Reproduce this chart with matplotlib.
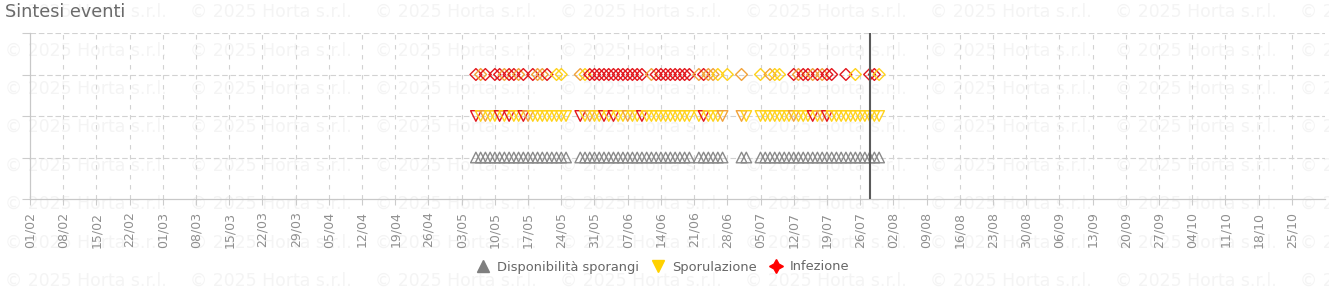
import matplotlib
matplotlib.use("Agg")
import matplotlib.pyplot as plt
import matplotlib.dates as mdates
from matplotlib.lines import Line2D
import pandas as pd

W, H, DPI = 1329, 289, 100

# ---------------- data ----------------
title = "Sintesi eventi"
watermark = "\u00a9 2025 Horta s.r.l."
series_names = ["Disponibilità sporangi", "Sporulazione", "Infezione"]
first_event_day = "2025-05-06"
today = "2025-07-28"
x_start, x_end = "2025-02-01", "2025-11-01"
tick_start, tick_end = "2025-02-01", "2025-10-25"

# one code per day starting at first_event_day ('-' = no event)
# G = grey, Y = yellow, O = orange, R = red
disponibilita_codes = list(
    "GGGGGGG" "GGGGGGG" "GGGGGG-" "-GGGGGG" "GGGGGGG" "GGGGGGG"
    "GGGG-GG" "GGGG---" "GG--GGG" "GGGGGGG" "GGGGGGG" "GGGGGGG" "GG"
)
sporulazione_codes = list(
    "RYOYYRY" "RYYROYY" "YYYYYY-" "-RYOYYR" "YRYYOYY" "RYYYYYY"
    "YYYY-YR" "YYYO---" "OY--YYY" "YYYYOYY" "YRYORYY" "YYYYYYY" "YY"
)
infezione_codes = list(
    "ROR-RRO" "RROR-RO" "OR-YY--" "-OYRRRR" "RRRRRRR" "R-ORRRR"
    "RRRR-OR" "OOY-Y--" "O---Y-O" "YY--ROR" "RORORR-" "-R-Y--R" "RY"
)

# ---------------- styles ----------------
colors = {"G": "#8a8a8a", "Y": "#FFD21A", "O": "#F2A23A", "R": "#E3161C"}
row_y = {"Disponibilità sporangi": 1, "Sporulazione": 2, "Infezione": 3}
row_marker = {"Disponibilità sporangi": "^", "Sporulazione": "v", "Infezione": "D"}
row_size = {"Disponibilità sporangi": 58, "Sporulazione": 58, "Infezione": 36}
row_codes = {"Disponibilità sporangi": disponibilita_codes,
             "Sporulazione": sporulazione_codes,
             "Infezione": infezione_codes}

fig = plt.figure(figsize=(W / DPI, H / DPI), dpi=DPI)
fig.patch.set_facecolor("white")

# watermark grid
for yy in [12, 50.4, 88.8, 127.2, 165.6, 204, 242.4, 280.8]:
    for xx in [5, 190, 375, 560, 745, 930, 1115, 1300]:
        fig.text(xx / W, 1 - yy / H, watermark, fontsize=12.4, color="#f4f4f4",
                 ha="left", va="center", zorder=-5)

ax = fig.add_axes([30 / W, (H - 199) / H, (1325 - 30) / W, (199 - 33) / H])
ax.patch.set_alpha(0)

days = pd.date_range(first_event_day, periods=len(disponibilita_codes), freq="D")
for name in series_names:
    codes = row_codes[name]
    xs = [d for d, c in zip(days, codes) if c != "-"]
    cs = [colors[c] for c in codes if c != "-"]
    ax.scatter(xs, [row_y[name]] * len(xs), marker=row_marker[name],
               s=row_size[name], facecolors="none", edgecolors=cs,
               linewidths=1.0, zorder=3)

ax.axvline(pd.Timestamp(today), color="#5a5a5a", lw=1.5, zorder=4)

ax.set_xlim(pd.Timestamp(x_start), pd.Timestamp(x_end))
ax.set_ylim(0, 4)
ticks = pd.date_range(tick_start, tick_end, freq="7D")
ax.set_xticks(ticks)
ax.xaxis.set_major_formatter(mdates.DateFormatter("%d/%m"))
ax.set_yticks([0, 1, 2, 3, 4])
ax.set_yticklabels([])
ax.tick_params(axis="x", direction="out", length=4.5, width=0.8, color="#cccccc",
               labelsize=9, labelcolor="#8f8f8f", pad=4.5, labelrotation=90)
ax.tick_params(axis="y", direction="out", length=6, width=0.8, color="#cccccc")

for y in [1, 2, 3, 4]:
    ax.axhline(y, color="#d2d2d2", lw=0.8, dashes=(5, 2.5), zorder=1)
for t in ticks[1:]:
    ax.axvline(t, color="#d2d2d2", lw=0.8, dashes=(4, 5), zorder=1)

for s in ["top", "right"]:
    ax.spines[s].set_visible(False)
ax.spines["left"].set_color("#c8c8c8")
ax.spines["bottom"].set_color("#c8c8c8")
ax.spines["left"].set_linewidth(0.9)
ax.spines["bottom"].set_linewidth(0.9)

fig.text(5 / W, 1 - 12 / H, title, fontsize=12.7, color="#6a6a6a",
         ha="left", va="center")

handles = [
    Line2D([], [], marker="^", ls="", color="#7f7f7f", ms=8),
    Line2D([], [], marker="v", ls="", color="#FFD100", ms=8),
    Line2D([], [], marker=(4, 1, 0), ls="", color="#FF0000", ms=10),
]
fig.legend(handles, series_names, loc="center", bbox_to_anchor=(663 / W, 1 - 267 / H),
           ncol=3, frameon=False, fontsize=9.4, labelcolor="#666666",
           handletextpad=0.55, columnspacing=1.0, handlelength=1.0)

fig.savefig("out.png", dpi=DPI)
